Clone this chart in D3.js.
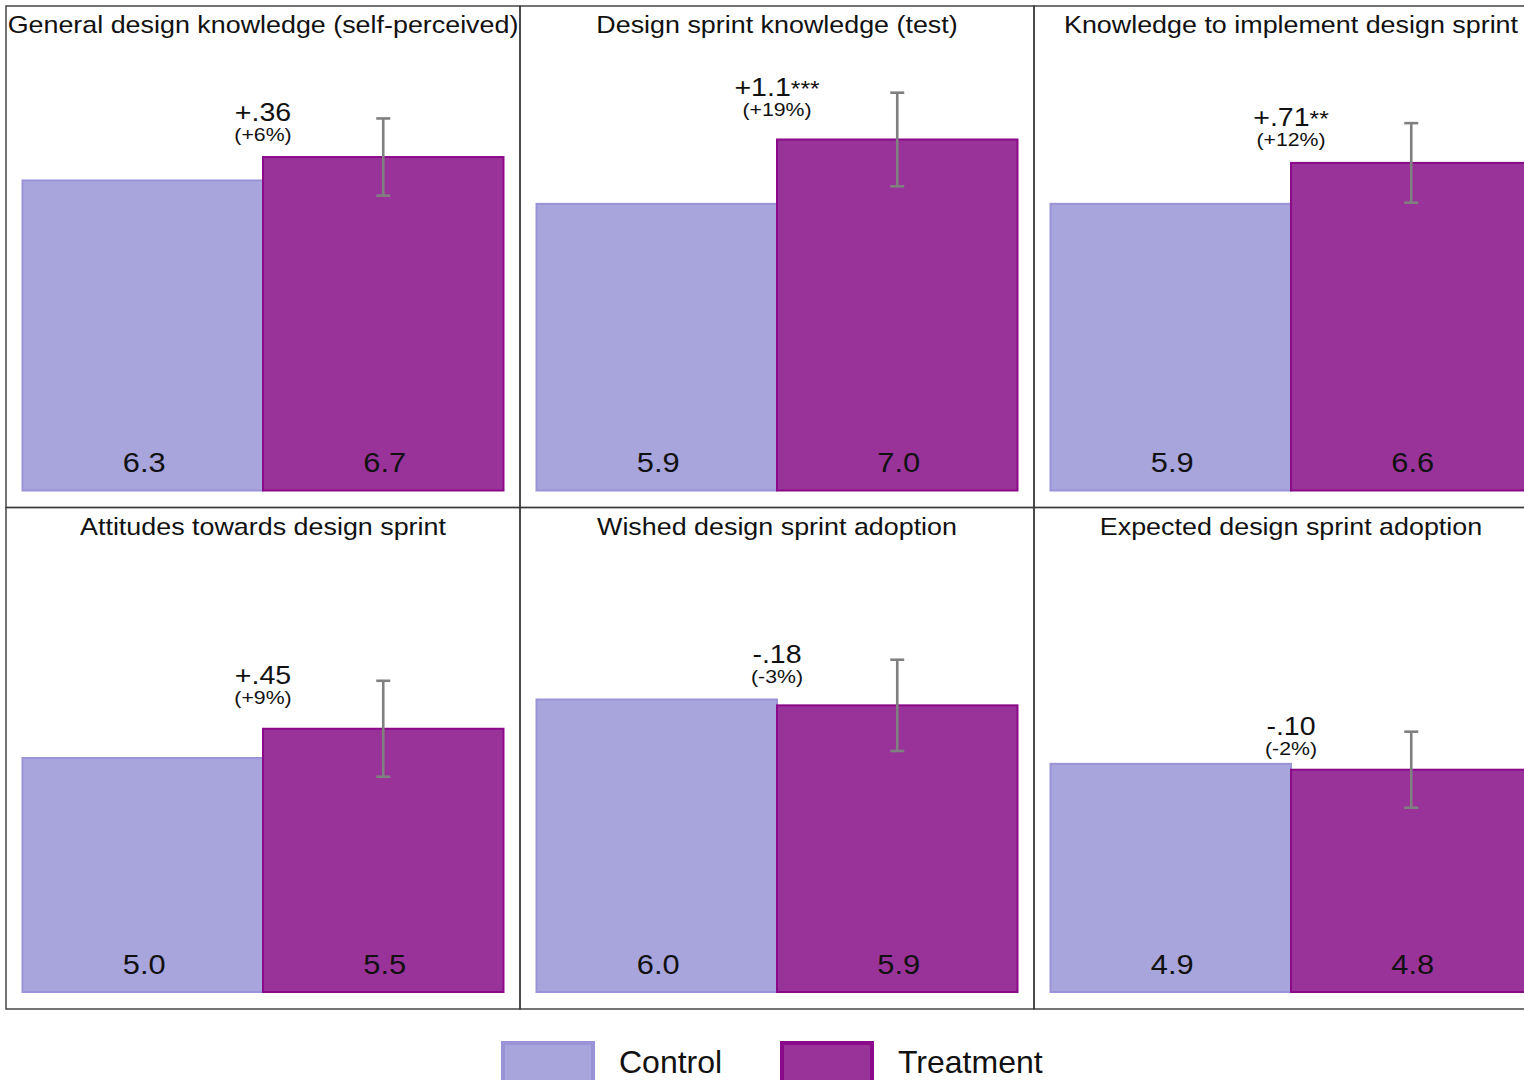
<!DOCTYPE html>
<html>
<head>
<meta charset="utf-8">
<script src="https://cdn.jsdelivr.net/npm/d3@7"></script>
<style>
  html, body { margin: 0; padding: 0; background: #ffffff; overflow: hidden; }
  svg { display: block; font-family: "Liberation Sans", Arial, sans-serif; }
</style>
</head>
<body>
<svg id="chart" width="1524" height="1080"></svg>
<script>
// Outcome measures, one panel each (row-major order)
const panelTitles = [
  "General design knowledge (self-perceived)",
  "Design sprint knowledge (test)",
  "Knowledge to implement design sprint",
  "Attitudes towards design sprint",
  "Wished design sprint adoption",
  "Expected design sprint adoption"
];
const groups = ["Control", "Treatment"];
const controlMeans   = [6.3, 5.9, 5.9, 5.0, 6.0, 4.9];
const treatmentMeans = [6.7, 7.0, 6.6, 5.5, 5.9, 4.8];
// half-width of the confidence interval around the treatment mean
const treatmentCI    = [0.66, 0.80, 0.68, 0.82, 0.78, 0.65];
// estimated treatment effects and significance stars
const effectLabels   = ["+.36", "+1.1", "+.71", "+.45", "-.18", "-.10"];
const effectStars    = ["", "***", "**", "", "", ""];
const effectPercents = ["(+6%)", "(+19%)", "(+12%)", "(+9%)", "(-3%)", "(-2%)"];
// response scale of the questionnaire items
const responseScale  = [1, 7];

const colors = {
  Control:   { fill: "#a8a4dc", stroke: "#9a93d8" },
  Treatment: { fill: "#993399", stroke: "#8a0a8a" }
};

const svg = d3.select("#chart");

// panel grid
const nCols = 3;
const originX = 6, originY = 6;
const panelW = 514, panelH = 501.5;
const baseY = 484.5;          // bar baseline inside a panel
const unitPx = 58.5;          // pixels per scale point
const textStretch = 1.12;     // panel text is drawn slightly wide

const x = d3.scaleBand().domain(groups).range([16.5, 497.5]).padding(0);
const y = d3.scaleLinear()
  .domain(responseScale)
  .range([baseY, baseY - unitPx * (responseScale[1] - responseScale[0])]);
const fmt = d3.format(".1f");

function wideText(parent, tx, ty, size) {
  return parent.append("g")
    .attr("transform", `translate(${tx},${ty}) scale(${textStretch},1)`)
    .append("text")
    .attr("text-anchor", "middle")
    .attr("font-size", size)
    .attr("fill", "#111");
}

panelTitles.forEach((title, i) => {
  const col = i % nCols, row = Math.floor(i / nCols);
  const g = svg.append("g")
    .attr("transform", `translate(${originX + col * panelW},${originY + row * panelH})`);

  const vals = [
    { group: "Control", value: controlMeans[i] },
    { group: "Treatment", value: treatmentMeans[i] }
  ];

  // bars
  g.selectAll("rect.bar").data(vals).enter().append("rect")
    .attr("class", "bar")
    .attr("x", d => x(d.group))
    .attr("width", x.bandwidth())
    .attr("y", d => y(d.value))
    .attr("height", d => y(responseScale[0]) - y(d.value))
    .attr("fill", d => colors[d.group].fill)
    .attr("stroke", d => colors[d.group].stroke)
    .attr("stroke-width", 2);

  // value labels inside the bars
  vals.forEach(d => {
    wideText(g, x(d.group) + x.bandwidth() / 2 + 1.5, baseY - 18.5, 27.5).text(fmt(d.value));
  });

  // confidence interval on the treatment bar
  const cx = x("Treatment") + x.bandwidth() / 2;
  const hi = y(treatmentMeans[i] + treatmentCI[i]);
  const lo = y(treatmentMeans[i] - treatmentCI[i]);
  const eb = g.append("g").attr("stroke", "#808080").attr("stroke-width", 2.6).attr("fill", "none");
  eb.append("line").attr("x1", cx).attr("x2", cx).attr("y1", hi).attr("y2", lo);
  eb.append("line").attr("x1", cx - 7).attr("x2", cx + 7).attr("y1", hi).attr("y2", hi);
  eb.append("line").attr("x1", cx - 7).attr("x2", cx + 7).attr("y1", lo).attr("y2", lo);

  // effect annotation between the bars
  const mid = x.range()[0] + (x.range()[1] - x.range()[0]) / 2;
  const eff = wideText(g, mid, hi + 3, 25.5);
  eff.append("tspan").text(effectLabels[i]);
  if (effectStars[i]) eff.append("tspan").attr("font-size", 22).text(effectStars[i]);
  wideText(g, mid, hi + 23, 19).text(effectPercents[i]);

  // panel title
  wideText(g, panelW / 2, 27, 24).text(title);

  // panel frame
  g.append("rect")
    .attr("x", 0).attr("y", 0)
    .attr("width", panelW).attr("height", panelH)
    .attr("fill", "none")
    .attr("stroke", "#3a3a3a")
    .attr("stroke-width", 1.4);
});

// legend
const legend = svg.append("g").attr("transform", "translate(503,1043)");
const legendItems = legend.selectAll("g").data(groups).enter().append("g")
  .attr("transform", (d, i) => `translate(${i * 279},0)`);
legendItems.append("rect")
  .attr("width", 90).attr("height", 40)
  .attr("fill", d => colors[d].fill)
  .attr("stroke", d => colors[d].stroke)
  .attr("stroke-width", 4);
legendItems.append("text")
  .attr("x", 116).attr("y", 30)
  .attr("font-size", 32)
  .attr("fill", "#111")
  .text(d => d);
</script>
</body>
</html>
